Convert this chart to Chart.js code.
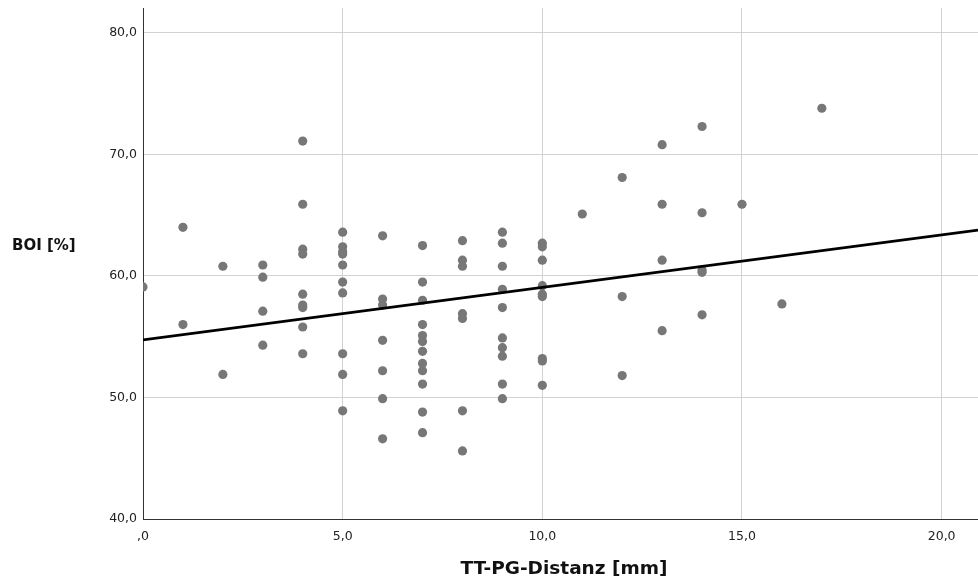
<!DOCTYPE html>
<html>
<head>
<meta charset="utf-8">
<script src="https://cdn.jsdelivr.net/npm/chart.js@4/dist/chart.umd.min.js"></script>
<style>
  html, body { margin: 0; padding: 0; background: #fff; }
  canvas { display: block; }
</style>
</head>
<body>
<canvas id="c" width="978" height="585"></canvas>
<script>
// TT-PG-Distanz [mm] (x) and BOI [%] (y)
const ttpgDistanz = [
  0,
  1, 1,
  2, 2,
  3, 3, 3, 3,
  4, 4, 4, 4, 4, 4, 4, 4, 4,
  5, 5, 5, 5, 5, 5, 5, 5, 5, 5,
  6, 6, 6, 6, 6, 6, 6,
  7, 7, 7, 7, 7, 7, 7, 7, 7, 7, 7, 7,
  8, 8, 8, 8, 8, 8, 8,
  9, 9, 9, 9, 9, 9, 9, 9, 9, 9,
  10, 10, 10, 10, 10, 10, 10, 10, 10,
  11,
  12, 12, 12,
  13, 13, 13, 13,
  14, 14, 14, 14, 14,
  15,
  16,
  17
];
const boiValues = [
  59.1,
  64.0, 56.0,
  60.8, 51.9,
  60.9, 59.9, 57.1, 54.3,
  71.1, 65.9, 62.2, 61.8, 58.5, 57.6, 57.4, 55.8, 53.6,
  63.6, 62.4, 62.0, 61.8, 60.9, 59.5, 58.6, 53.6, 51.9, 48.9,
  63.3, 58.1, 57.6, 54.7, 52.2, 49.9, 46.6,
  62.5, 59.5, 58.0, 56.0, 55.1, 54.6, 53.8, 52.8, 52.2, 51.1, 48.8, 47.1,
  62.9, 61.3, 60.8, 56.9, 56.5, 48.9, 45.6,
  63.6, 62.7, 60.8, 58.9, 57.4, 54.9, 54.1, 53.4, 51.1, 49.9,
  62.7, 62.4, 61.3, 59.2, 58.5, 58.3, 53.2, 53.0, 51.0,
  65.1,
  68.1, 58.3, 51.8,
  70.8, 65.9, 61.3, 55.5,
  72.3, 65.2, 60.5, 60.3, 56.8,
  65.9,
  57.7,
  73.8
];
// Fit line end points
const fitLineX = [0, 20.91];
const fitLineY = [54.74, 63.77];

// Axis ranges and tick labels
const xRange = [0, 20.91];
const yRange = [40, 82.05];
const xTickValues = [0, 5, 10, 15, 20];
const xTickLabels = [',0', '5,0', '10,0', '15,0', '20,0'];
const yTickValues = [40, 50, 60, 70, 80];
const yTickLabels = ['40,0', '50,0', '60,0', '70,0', '80,0'];
const xTitle = 'TT-PG-Distanz [mm]';
const yTitle = 'BOI [%]';

const scatterData = ttpgDistanz.map((x, i) => ({ x: x, y: boiValues[i] }));
const lineData = fitLineX.map((x, i) => ({ x: x, y: fitLineY[i] }));

const titlesPlugin = {
  id: 'titles',
  afterDraw(chart) {
    const ctx = chart.ctx;
    ctx.save();
    ctx.fillStyle = '#111';
    ctx.textBaseline = 'middle';
    ctx.font = 'bold 15px "DejaVu Sans"';
    ctx.textAlign = 'left';
    ctx.fillText(yTitle, 12, 246);
    ctx.font = 'bold 18.5px "DejaVu Sans"';
    ctx.textAlign = 'center';
    ctx.fillText(xTitle, 564, 569);
    ctx.restore();
  }
};

const tickFont = { family: 'DejaVu Sans', size: 12.5 };

function noPad(s) {
  s.paddingTop = 0; s.paddingBottom = 0; s.paddingLeft = 0; s.paddingRight = 0;
}

new Chart(document.getElementById('c'), {
  type: 'scatter',
  data: {
    datasets: [
      {
        type: 'line',
        data: lineData,
        borderColor: '#000',
        borderWidth: 2.6,
        pointRadius: 0,
        fill: false,
        order: 0
      },
      {
        data: scatterData,
        backgroundColor: '#777777',
        borderWidth: 0,
        pointRadius: 4.6,
        pointHoverRadius: 4.6,
        order: 1
      }
    ]
  },
  options: {
    responsive: false,
    animation: false,
    events: [],
    layout: { autoPadding: false, padding: { top: 8, right: 0, left: 0, bottom: 0 } },
    plugins: { legend: { display: false }, tooltip: { enabled: false }, title: { display: false } },
    scales: {
      x: {
        type: 'linear',
        min: xRange[0],
        max: xRange[1],
        afterFit(s) { s.height = 66; noPad(s); },
        afterBuildTicks(s) { s.ticks = xTickValues.map(v => ({ value: v })); },
        ticks: {
          font: tickFont,
          color: '#222',
          padding: 10,
          maxRotation: 0,
          callback(v) { const i = xTickValues.indexOf(v); return i >= 0 ? xTickLabels[i] : ''; }
        },
        grid: { color: '#d2d2d2', lineWidth: 1, drawTicks: false },
        border: { color: '#333', width: 1 }
      },
      y: {
        type: 'linear',
        min: yRange[0],
        max: yRange[1],
        afterFit(s) { s.width = 143; noPad(s); },
        afterBuildTicks(s) { s.ticks = yTickValues.map(v => ({ value: v })); },
        ticks: {
          font: tickFont,
          color: '#222',
          padding: 6,
          callback(v) { const i = yTickValues.indexOf(v); return i >= 0 ? yTickLabels[i] : ''; }
        },
        grid: { color: '#d2d2d2', lineWidth: 1, drawTicks: false },
        border: { color: '#333', width: 1 }
      }
    }
  },
  plugins: [titlesPlugin]
});
</script>
</body>
</html>
